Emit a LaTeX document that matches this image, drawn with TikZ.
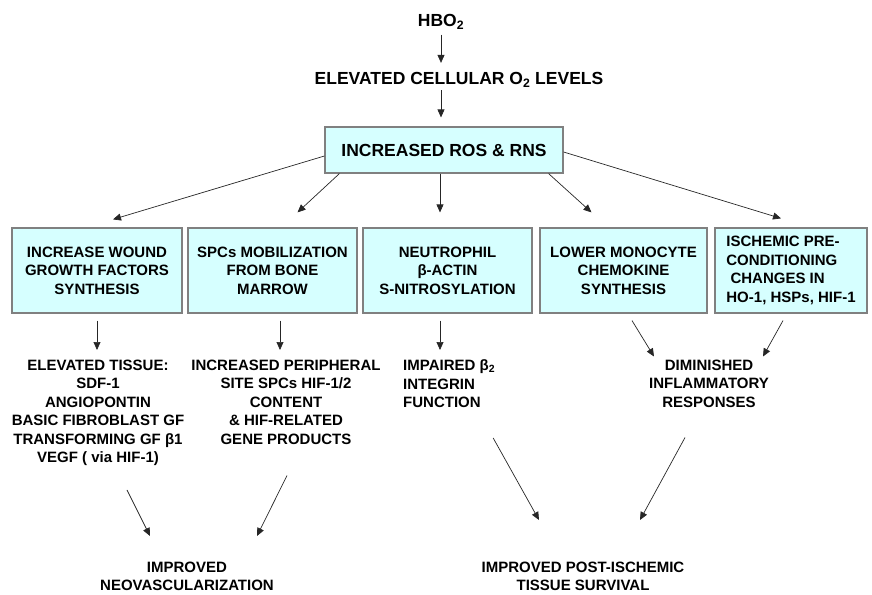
\documentclass[tikz,border=0pt]{standalone}
\usepackage{fontspec}
\setmainfont{Liberation Sans}
\usetikzlibrary{arrows.meta, calc}

\definecolor{boxcyan}{RGB}{214,255,255}

\begin{document}
\begin{tikzpicture}[
  x=1pt, y=-1pt,
  font=\bfseries\fontsize{15}{18.5}\selectfont,
  arr/.style={-{Triangle[length=8pt,width=7pt]}, line width=0.7pt, draw=black!85},
  box/.style={draw=gray, line width=1.2pt, fill=boxcyan, align=center,
              minimum width=#1, minimum height=85pt, inner sep=2pt},
  big/.style={font=\bfseries\fontsize{17.5}{20}\selectfont, inner sep=0pt},
  txt/.style={align=center, anchor=north, inner sep=0pt},
]
  \useasboundingbox (0,0) rectangle (872,594);

  % --- top chain --------------------------------------------------
  \node[big] (hbo) at (441,22) {HBO\textsubscript{2}};
  \node[big] (o2) at (459,80) {ELEVATED CELLULAR O\textsubscript{2} LEVELS};
  \node[box=238pt, minimum height=46pt, big, inner sep=2pt] (ros) at (444,150) {INCREASED ROS \& RNS};

  \draw[arr, shorten <=5pt, shorten >=9.5pt] (hbo.south) -- (hbo.south |- o2.north);
  \draw[arr, shorten <=2.5pt, shorten >=9pt] (hbo.south |- o2.south) -- (hbo.south |- ros.north);

  % --- effects of ROS / RNS ---------------------------------------
  \node[box=170pt] (wound) at (97,270.5) {INCREASE WOUND\\GROWTH FACTORS\\SYNTHESIS};
  \node[box=169pt] (spc) at (272.5,270.5) {SPCs MOBILIZATION\\FROM BONE\\MARROW};
  \node[box=169pt] (neut) at (447.5,270.5) {NEUTROPHIL\\β-ACTIN\\S-NITROSYLATION};
  \node[box=167pt] (mono) at (623.5,270.5) {LOWER MONOCYTE\\CHEMOKINE\\SYNTHESIS};
  \node[box=152pt, align=left] (isch) at (791,270.5) {ISCHEMIC PRE-\\CONDITIONING\\\ CHANGES IN\\HO-1, HSPs, HIF-1};

  \draw[arr] ([yshift=-6pt]ros.west) -- ([xshift=16pt,yshift=8pt]wound.north);
  \draw[arr] ([xshift=15pt]ros.south west) -- ([xshift=25pt,yshift=15pt]spc.north);
  \draw[arr] ([xshift=-4pt]ros.south) -- ([xshift=-7.5pt,yshift=15pt]neut.north);
  \draw[arr] ([xshift=-15pt]ros.south east) -- ([xshift=-32pt,yshift=15pt]mono.north);
  \draw[arr] ([yshift=-2pt]ros.east) -- ([xshift=-10pt,yshift=9pt]isch.north);

  % --- outcomes ---------------------------------------------------
  \node[txt] (tis) at (98,359.5) {ELEVATED TISSUE:\\SDF-1\\ANGIOPONTIN\\BASIC FIBROBLAST GF\\TRANSFORMING GF β1\\VEGF ( via HIF-1)};
  \node[txt] (peri) at (286,359.5) {INCREASED PERIPHERAL\\SITE SPCs HIF-1/2\\CONTENT\\\& HIF-RELATED\\GENE PRODUCTS};
  \node[txt, align=left, anchor=north west] (integ) at (403,359.5) {IMPAIRED β\textsubscript{2}\\INTEGRIN\\FUNCTION};
  \node[txt] (infl) at (709,359.5) {DIMINISHED\\INFLAMMATORY\\RESPONSES};

  \draw[arr, shorten <=7pt, shorten >=9.5pt] (wound.south) -- (wound.south |- tis.north);
  \draw[arr, shorten <=7pt, shorten >=9.5pt] ([xshift=7.5pt]spc.south) -- ([xshift=7.5pt]spc.south |- peri.north);
  \draw[arr, shorten <=7pt, shorten >=9.5pt] ([xshift=-7.5pt]neut.south) -- ([xshift=-7.5pt]neut.south |- integ.north);
  \draw[arr] ([xshift=8.5pt,yshift=-7pt]mono.south) -- ([xshift=-55pt,yshift=3pt]infl.north);
  \draw[arr] ([xshift=-8pt,yshift=-7pt]isch.south) -- ([xshift=54pt,yshift=3pt]infl.north);

  % --- final results ----------------------------------------------
  \node[txt] (neo) at (187,561.5) {IMPROVED\\NEOVASCULARIZATION};
  \node[txt] (surv) at (583,561.5) {IMPROVED POST-ISCHEMIC\\TISSUE SURVIVAL};

  \draw[arr] ([xshift=29pt,yshift=-24pt]tis.south) -- ([xshift=-37pt,yshift=25.5pt]neo.north);
  \draw[arr] ([xshift=1pt,yshift=-31pt]peri.south) -- ([xshift=70pt,yshift=25.5pt]neo.north);
  \draw[arr] ([xshift=44pt,yshift=-30pt]integ.south) -- ([xshift=-44pt,yshift=41.5pt]surv.north);
  \draw[arr] ([xshift=-24pt,yshift=-30pt]infl.south) -- ([xshift=57pt,yshift=41.5pt]surv.north);
\end{tikzpicture}
\end{document}
